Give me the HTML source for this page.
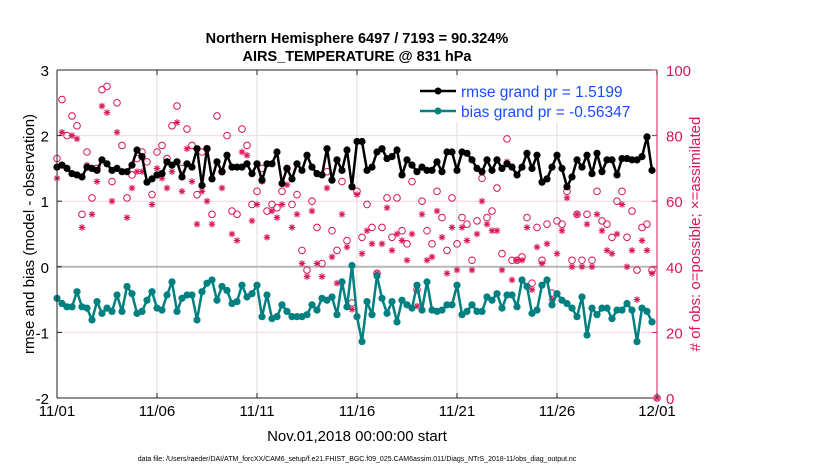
<!DOCTYPE html>
<html><head><meta charset="utf-8"><style>
body{margin:0;background:#fff;}
svg text{font-family:"Liberation Sans",Arial,sans-serif;}
</style></head><body>
<svg id="c" width="830" height="470" xmlns="http://www.w3.org/2000/svg">
<rect width="830" height="470" fill="#fff"/>
<text x="357" y="43" text-anchor="middle" font-size="14.5" font-weight="bold">Northern Hemisphere 6497 / 7193 = 90.324%</text>
<text x="357" y="61" text-anchor="middle" font-size="14.5" font-weight="bold">AIRS_TEMPERATURE @ 831 hPa</text>
<g id="grid"></g>
<g id="marks"></g>
<g id="axes"></g>
<g>
<rect x="415" y="78" width="235" height="44" fill="#fff"/>
<line x1="420" y1="91" x2="456" y2="91" stroke="#000" stroke-width="2.5"/>
<circle cx="438" cy="91" r="3.5" fill="#000"/>
<text x="461" y="97" font-size="15.5" fill="#1a4cff">rmse grand pr = 1.5199</text>
<line x1="420" y1="111" x2="456" y2="111" stroke="#008080" stroke-width="2.5"/>
<circle cx="438" cy="111" r="3.5" fill="#008080"/>
<text x="461" y="117" font-size="15.5" fill="#1a4cff">bias grand pr = -0.56347</text>
</g>
<text transform="translate(34,234) rotate(-90)" text-anchor="middle" font-size="15">rmse and bias (model - observation)</text>
<text transform="translate(700,234) rotate(-90)" text-anchor="middle" font-size="15" fill="#d9165a"># of obs: o=possible; ×=assimilated</text>
<text x="357" y="441" text-anchor="middle" font-size="15">Nov.01,2018 00:00:00 start</text>
<text x="357" y="461" text-anchor="middle" font-size="7">data file: /Users/raeder/DAI/ATM_forcXX/CAM6_setup/f.e21.FHIST_BGC.f09_025.CAM6assim.011/Diags_NTrS_2018-11/obs_diag_output.nc</text>
</svg>
<script>
const xTicks=[0,5,10,15,20,25,30];
const xTickLabels=["11/01","11/06","11/11","11/16","11/21","11/26","12/01"];
const yTicksL=[3,2,1,0,-1,-2];
const yTicksR=[100,80,60,40,20,0];
const rmse=[1.52,1.55,1.50,1.42,1.40,1.37,1.52,1.50,1.47,1.63,1.57,1.47,1.50,1.45,1.45,1.55,1.78,1.68,1.29,1.34,1.40,1.42,1.60,1.55,1.60,1.37,1.57,1.52,1.80,1.24,1.80,1.34,1.60,1.45,1.70,1.52,1.52,1.52,1.57,1.42,1.57,1.32,1.57,1.57,1.75,1.27,1.50,1.34,1.57,1.47,1.70,1.52,1.42,1.40,1.80,1.32,1.63,1.47,1.78,1.22,1.91,
1.91,1.47,1.52,1.75,1.80,1.65,1.68,1.78,1.40,1.63,1.55,1.45,1.52,1.47,1.47,1.60,1.45,1.75,1.75,1.47,1.75,1.73,1.63,1.50,1.45,1.63,1.47,1.63,1.50,1.57,1.52,1.40,1.52,1.73,1.50,1.70,1.29,1.34,1.52,1.70,1.50,1.22,1.37,1.63,1.52,1.70,1.42,1.73,1.45,1.63,1.63,1.40,1.65,1.65,1.63,1.63,1.68,1.98,1.47];
const bias=[-0.48,-0.56,-0.61,-0.61,-0.38,-0.61,-0.63,-0.81,-0.53,-0.71,-0.63,-0.68,-0.43,-0.68,-0.30,-0.41,-0.71,-0.68,-0.51,-0.38,-0.63,-0.66,-0.43,-0.23,-0.68,-0.48,-0.43,-0.43,-0.81,-0.38,-0.25,-0.20,-0.51,-0.30,-0.36,-0.56,-0.53,-0.28,-0.46,-0.41,-0.28,-0.76,-0.43,-0.79,-0.76,-0.58,-0.68,-0.76,-0.76,-0.76,-0.73,-0.58,-0.66,-0.48,-0.51,-0.46,-0.73,-0.23,-0.61,0.02,-0.76,
-1.14,-0.53,-0.73,-0.14,-0.48,-0.71,-0.53,-0.84,-0.51,-0.58,-0.63,-0.28,-0.66,-0.23,-0.66,-0.68,-0.66,-0.58,-0.58,-0.28,-0.73,-0.68,-0.58,-0.68,-0.68,-0.46,-0.51,-0.41,-0.63,-0.43,-0.43,-0.61,-0.20,-0.30,-0.71,-0.66,-0.28,-0.20,-0.58,-0.41,-0.51,-0.56,-0.63,-0.76,-0.46,-1.04,-0.63,-0.73,-0.63,-0.63,-0.79,-0.66,-0.66,-0.56,-0.66,-1.14,-0.63,-0.68,-0.84];
const possible=[73,91,80,86,83,56,75,61,70,94,95,66,90,77,61,68,73,75,72,62,75,77,73,83,89,70,82,77,62,75,76,56,86,69,80,57,56,82,77,59,63,70,57,59,58,63,70,59,62,45,39,60,52,41,69,51,45,66,48,29,63,
49,59,52,38,52,61,49,61,51,47,66,33,60,51,47,63,55,45,61,47,55,53,42,54,67,55,57,64,44,79,42,42,43,55,35,52,42,53,32,54,53,63,42,56,42,56,42,63,54,53,49,60,63,49,57,39,52,53,39,0];
const assimilated=[67,81,70,80,79,52,71,56,66,89,87,60,81,69,55,64,69,69,null,59,70,67,64,69,84,63,76,66,53,63,60,53,72,64,74,50,48,75,74,54,59,66,49,57,55,59,65,52,56,41,37,57,41,37,64,43,35,56,46,27,62,
44,51,47,38,47,58,45,50,48,42,50,28,56,42,43,57,49,38,52,39,52,48,39,50,60,53,51,51,39,72,36,42,42,52,33,46,41,47,30,44,51,61,40,56,40,53,40,56,51,45,44,50,59,40,45,30,48,45,38,0];
const X0=57,X1=657,YT=70,YB=398;
const xs=t=>X0+(X1-X0)*t/30;
const yl=v=>YT+(3-v)*(YB-YT)/5;
const yr=v=>YB-v*(YB-YT)/100;
const NS="http://www.w3.org/2000/svg";
function mk(tag,attrs,parent){const e=document.createElementNS(NS,tag);for(const k in attrs)e.setAttribute(k,attrs[k]);parent.appendChild(e);return e;}
const grid=document.getElementById('grid'),marks=document.getElementById('marks'),axes=document.getElementById('axes');
xTicks.forEach(t=>{if(t>0&&t<30)mk('line',{x1:xs(t),x2:xs(t),y1:YT,y2:YB,stroke:'#dcdcdc','stroke-width':1},grid);});
yTicksR.forEach(v=>{if(v>0&&v<100)mk('line',{x1:X0,x2:X1,y1:yr(v),y2:yr(v),stroke:'#f0d8e0','stroke-width':1},grid);});
const zl=mk('line',{x1:X0,x2:X1,y1:yl(0),y2:yl(0),stroke:'#b8b8b8','stroke-width':2},grid);

// obs
const red='#d9165a';
possible.forEach((v,i)=>{if(v==null)return;const c=mk('circle',{cx:xs(i*0.25),cy:yr(v),r:3.3,fill:'none',stroke:red,'stroke-width':1},marks);

});
assimilated.forEach((v,i)=>{if(v==null)return;const x=xs(i*0.25),y=yr(v);const g=mk('g',{stroke:red,'stroke-width':1.1},marks);


mk('line',{x1:x-3.3,x2:x+3.3,y1:y,y2:y},g);mk('line',{x1:x,x2:x,y1:y-3.3,y2:y+3.3},g);
mk('line',{x1:x-2.4,x2:x+2.4,y1:y-2.4,y2:y+2.4},g);mk('line',{x1:x-2.4,x2:x+2.4,y1:y+2.4,y2:y-2.4},g);});
function series(arr,col,name){const pts=arr.map((v,i)=>xs(i*0.25)+','+yl(v)).join(' ');
const p=mk('polyline',{points:pts,fill:'none',stroke:col,'stroke-width':2.5,'stroke-linejoin':'round'},marks);


arr.forEach((v,i)=>{const c=mk('circle',{cx:xs(i*0.25),cy:yl(v),r:3.6,fill:col},marks);

});}
series(rmse,'#000','rmse');series(bias,'#008080','bias');
// axes
mk('line',{x1:X0,x2:X1,y1:YT,y2:YT,stroke:'#222','stroke-width':1},axes);
mk('line',{x1:X0,x2:X1,y1:YB,y2:YB,stroke:'#222','stroke-width':1},axes);
mk('line',{x1:X0,x2:X0,y1:YT,y2:YB,stroke:'#222','stroke-width':1},axes);
mk('line',{x1:X1,x2:X1,y1:YT,y2:YB,stroke:red,'stroke-width':1},axes);
xTicks.forEach((t,i)=>{mk('line',{x1:xs(t),x2:xs(t),y1:YB,y2:YB-5,stroke:'#222'},axes);mk('line',{x1:xs(t),x2:xs(t),y1:YT,y2:YT+5,stroke:'#222'},axes);
const tx=mk('text',{x:xs(t),y:YB+18,'text-anchor':'middle','font-size':15},axes);tx.textContent=xTickLabels[i];

});
yTicksL.forEach(v=>{mk('line',{x1:X0,x2:X0+5,y1:yl(v),y2:yl(v),stroke:'#222'},axes);
const tx=mk('text',{x:X0-8,y:yl(v)+6,'text-anchor':'end','font-size':15},axes);tx.textContent=v;

});
yTicksR.forEach(v=>{mk('line',{x1:X1,x2:X1-5,y1:yr(v),y2:yr(v),stroke:red},axes);
const tx=mk('text',{x:X1+9,y:yr(v)+6,'font-size':15,fill:red},axes);tx.textContent=v;

});
</script>
</body></html>
